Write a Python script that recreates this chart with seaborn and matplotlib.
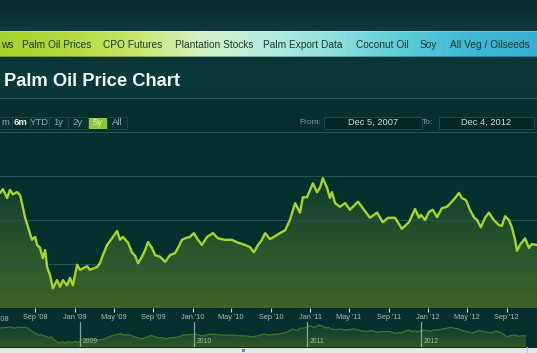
import numpy as np
import pandas as pd
import matplotlib.pyplot as plt
import matplotlib.dates as mdates
import matplotlib.transforms as mtransforms
import seaborn as sns
from matplotlib.colors import LinearSegmentedColormap
from matplotlib.patches import Rectangle, FancyBboxPatch

# ---- price series (USD/tonne, approx.) ----
dates = [
    '2008-04-19', '2008-05-14', '2008-05-23', '2008-06-05', '2008-06-14', '2008-06-23',
    '2008-07-06', '2008-07-15', '2008-07-21', '2008-07-31', '2008-08-09', '2008-08-21',
    '2008-08-31', '2008-09-06', '2008-09-15', '2008-09-24', '2008-10-01', '2008-10-07',
    '2008-10-16', '2008-10-25', '2008-11-07', '2008-11-16', '2008-11-25', '2008-12-08',
    '2008-12-17', '2008-12-26', '2009-01-08', '2009-01-17', '2009-02-08', '2009-02-17',
    '2009-03-11', '2009-03-20', '2009-03-29', '2009-04-11', '2009-04-26', '2009-05-12',
    '2009-05-21', '2009-05-30', '2009-06-15', '2009-06-27', '2009-07-07', '2009-07-16',
    '2009-07-28', '2009-08-07', '2009-08-16', '2009-08-28', '2009-09-07', '2009-09-22',
    '2009-10-08', '2009-10-23', '2009-11-08', '2009-11-17', '2009-11-29', '2009-12-15',
    '2009-12-24', '2010-01-05', '2010-01-18', '2010-01-30', '2010-02-15', '2010-03-05',
    '2010-03-21', '2010-04-12', '2010-05-03', '2010-05-22', '2010-06-13', '2010-06-28',
    '2010-07-10', '2010-07-23', '2010-08-04', '2010-08-14', '2010-08-29', '2010-09-14',
    '2010-09-29', '2010-10-15', '2010-10-30', '2010-11-15', '2010-11-30', '2010-12-09',
    '2010-12-22', '2011-01-09', '2011-01-22', '2011-01-31', '2011-02-09', '2011-02-22',
    '2011-03-03', '2011-03-09', '2011-03-19', '2011-04-03', '2011-04-19', '2011-05-04',
    '2011-05-13', '2011-05-29', '2011-06-13', '2011-07-05', '2011-07-27', '2011-08-14',
    '2011-08-30', '2011-09-21', '2011-10-12', '2011-11-03', '2011-11-22', '2011-12-04',
    '2011-12-10', '2011-12-23', '2012-01-04', '2012-01-16', '2012-01-29', '2012-02-13',
    '2012-02-29', '2012-03-15', '2012-03-25', '2012-04-06', '2012-04-15', '2012-04-28',
    '2012-05-10', '2012-05-22', '2012-06-01', '2012-06-13', '2012-06-26', '2012-07-08',
    '2012-07-23', '2012-08-08', '2012-08-17', '2012-08-27', '2012-09-08', '2012-09-17',
    '2012-09-27', '2012-10-03', '2012-10-12', '2012-10-28', '2012-11-09', '2012-11-18',
    '2012-12-04',
]
prices = [
    1060, 1085, 1110, 1050, 1105, 1075,
    1090, 1070, 1015, 915, 850, 765,
    785, 730, 710, 640, 695, 580,
    525, 435, 490, 445, 490, 455,
    505, 455, 595, 560, 585, 560,
    580, 605, 660, 730, 775, 825,
    765, 785, 745, 680, 655, 605,
    650, 695, 750, 710, 660, 650,
    615, 660, 675, 710, 765, 780,
    785, 810, 765, 730, 785, 810,
    775, 765, 765, 745, 730, 715,
    680, 730, 765, 810, 770, 790,
    810, 830, 900, 1015, 950, 1055,
    1055, 1150, 1090, 1120, 1185, 1120,
    1050, 1090, 1015, 990, 1015, 970,
    990, 1025, 980, 915, 950, 885,
    915, 915, 840, 885, 975, 915,
    935, 900, 955, 970, 920, 980,
    990, 1025, 1050, 1085, 1050, 1035,
    970, 920, 900, 850, 915, 950,
    900, 865, 860, 925, 900, 850,
    765, 690, 730, 775, 710, 735,
    730,
]

menu_items = ['ws', 'Palm Oil Prices', 'CPO Futures', 'Plantation Stocks',
              'Palm Export Data', 'Coconut Oil', 'Soy', 'All Veg / Oilseeds']
range_buttons = ['m', '6m', 'YTD', '1y', '2y', '5y', 'All']
tick_dates = ['2008-09-01', '2009-01-01', '2009-05-01', '2009-09-01', '2010-01-01',
              '2010-05-01', '2010-09-01', '2011-01-01', '2011-05-01', '2011-09-01',
              '2012-01-01', '2012-05-01', '2012-09-01']
tick_labels = ["Sep '08", "Jan '09", "May '09", "Sep '09", "Jan '10", "May '10",
               "Sep '10", "Jan '11", "May '11", "Sep '11", "Jan '12", "May '12", "Sep '12"]
nav_years = ['2009', '2010', '2011', '2012']

W, H = 537, 353
sns.set_theme(style='dark')
plt.rcParams['font.family'] = ['Liberation Sans', 'DejaVu Sans']

df = pd.DataFrame({'date': pd.to_datetime(dates), 'price': prices})

fig = plt.figure(figsize=(W / 100, H / 100), dpi=100)
fig.patch.set_facecolor('#06302f')

# ---------- page chrome (pixel coordinates) ----------
bg = fig.add_axes([0, 0, 1, 1])
bg.axis('off')


def vgrad(x0, x1, y0, y1, colors, z=0):
    cmap = LinearSegmentedColormap.from_list('v', colors)
    bg.imshow(np.linspace(0, 1, 64).reshape(-1, 1), cmap=cmap, aspect='auto',
              extent=(x0, x1, y1, y0), zorder=z, interpolation='bicubic')


vgrad(0, W, 0, 31, ['#0a2a2f', '#0d3237', '#11393d'])
vgrad(0, W, 57, 98, ['#0a3536', '#0c3b3b', '#0a3636'])
vgrad(0, W, 98, 133, ['#07312f', '#06302e'])
vgrad(0, W, 308, 347, ['#05302e', '#06302f'])

# menu bar gradient
menu_cmap = LinearSegmentedColormap.from_list(
    'menu', ['#a6d02e', '#b5d93c', '#c8e66a', '#d6f0c4', '#b4ece0',
             '#8ee0dc', '#5ccdd8', '#3fb9d6', '#36afd4'])
bg.imshow(np.linspace(0, 1, 256).reshape(1, -1), cmap=menu_cmap, aspect='auto',
          extent=(0, W, 57, 31), zorder=1, interpolation='bicubic')
bg.add_patch(Rectangle((0, 31), W, 1.2, color='white', alpha=0.25, lw=0, zorder=2))
bg.add_patch(Rectangle((0, 55.5), W, 1.5, color='#0b2e2c', alpha=0.35, lw=0, zorder=2))
menu_x = [1, 22, 103, 175, 263, 356, 420, 450]
for txt, x in zip(menu_items, menu_x):
    bg.text(x, 44.5, txt, fontsize=7.3, color='#1b3a2a', va='center', ha='left', zorder=3)
for x in [348, 414, 443]:
    bg.plot([x, x], [34, 55], color='#2f6070', alpha=0.08, lw=0.5, zorder=2)

# title
bg.text(4, 81, 'Palm Oil Price Chart', fontsize=13.2, fontweight='bold',
        color='#f2f7f6', va='center', ha='left', zorder=3)
bg.plot([0, W], [97.5, 97.5], color='#2a5654', lw=0.9, zorder=2)

# range selector
btn_edges = [-8, 12, 30, 49, 68, 88, 107, 127]
for i, lab in enumerate(range_buttons):
    x0, x1 = btn_edges[i], btn_edges[i + 1]
    if lab == '5y':
        bg.add_patch(Rectangle((x0 + 0.5, 117.5), x1 - x0 - 1, 10.5, facecolor='#8cc63c',
                               edgecolor='#a8dc55', lw=0.6, zorder=3))
        col, fw = '#e4f5b8', 'normal'
    else:
        bg.add_patch(Rectangle((x0, 117), x1 - x0, 11.5, facecolor='none',
                               edgecolor='#1d4845', lw=0.7, zorder=3))
        col, fw = ('#e8f1ef', 'bold') if lab == '6m' else ('#8fb1ad', 'normal')
    bg.text((x0 + x1) / 2 if i else 5, 122.8, lab, fontsize=6.8, color=col,
            fontweight=fw, ha='center', va='center', zorder=4)

# from / to boxes
bg.text(321, 122.8, 'From:', fontsize=6.0, color='#7d9f9b', ha='right', va='center', zorder=4)
bg.text(433, 122.8, 'To:', fontsize=6.0, color='#7d9f9b', ha='right', va='center', zorder=4)
for (x0, x1, s) in [(324, 422, 'Dec 5, 2007'), (439, 534, 'Dec 4, 2012')]:
    bg.add_patch(Rectangle((x0, 117), x1 - x0, 11.5, facecolor='#042625',
                           edgecolor='#1f4a47', lw=0.7, zorder=3))
    bg.text((x0 + x1) / 2, 122.8, s, fontsize=6.7, color='#cfe0dc',
            ha='center', va='center', zorder=4)

# bottom light bar + navigator handle
bg.add_patch(Rectangle((0, 347.5), W, 6, facecolor='#e4e9e7', lw=0, zorder=3))
bg.add_patch(Rectangle((242, 348.5), 3, 3, facecolor='#5f9c72', lw=0, zorder=4))
bg.plot([527, 527], [322, 353], color='#b8ccc6', lw=0.9, zorder=5)
bg.add_patch(FancyBboxPatch((524.8, 329.5), 4.4, 10, boxstyle='round,pad=0.6',
                            facecolor='#f4f7f5', edgecolor='#6d8f88', lw=0.5, zorder=6))
bg.set_xlim(0, W)
bg.set_ylim(H, 0)


# ---------- main price chart ----------
def gradient_fill(axis, data, ylo, yhi, colors, x0, x1):
    poly = axis.fill_between(data['date'], data['price'], ylo, color='none', lw=0)
    cmap = LinearSegmentedColormap.from_list('f', colors)
    im = axis.imshow(np.linspace(0, 1, 128).reshape(-1, 1), cmap=cmap, aspect='auto',
                     extent=(mdates.date2num(x0), mdates.date2num(x1), ylo, yhi),
                     zorder=1, interpolation='bicubic')
    im.set_clip_path(poly.get_paths()[0], axis.transData)


x_start, x_end = pd.Timestamp('2008-05-14'), pd.Timestamp('2012-12-04')
ax = fig.add_axes([0, 1 - 308 / H, 1, 176 / H])
ax.set_facecolor('#04302e')
gradient_fill(ax, df, 300, 1500, ['#08352f', '#163f2f', '#2b552b', '#3f6328'],
              pd.Timestamp('2008-01-01'), pd.Timestamp('2013-02-01'))
sns.lineplot(data=df, x='date', y='price', ax=ax, color='#a8d52c', lw=1.7, zorder=3)
ax.set_xlim(x_start, x_end)
ax.set_ylim(300, 1500)
ax.set_axisbelow('line')
ax.set_yticks([600, 900, 1200, 1500])
ax.yaxis.grid(True, color='#24534f', lw=0.8)
ax.xaxis.grid(False)
ax.set_yticklabels([])
ax.tick_params(axis='y', left=False, length=0)
ax.set_xticks(pd.to_datetime(tick_dates))
ax.set_xticklabels(tick_labels, fontsize=5.3, color='#a3c0bb')
ax.tick_params(axis='x', bottom=True, direction='out', length=3, width=0.8,
               color='#c9d9d3', pad=1.2)
ax.set_xlabel('')
ax.set_ylabel('')
for sp in ax.spines.values():
    sp.set_visible(False)
trans = mtransforms.blended_transform_factory(ax.transData, ax.transAxes)
ax.text(pd.Timestamp('2008-05-01'), -0.045, "May '08", transform=trans, fontsize=5.3,
        color='#a3c0bb', ha='center', va='top', clip_on=False)

# ---------- navigator ----------
nav = fig.add_axes([0, 1 - 347 / H, 1, 25 / H])
nav.set_facecolor('#05302e')
gradient_fill(nav, df, 268, 1310, ['#0c3a30', '#1c472d', '#315827'],
              pd.Timestamp('2008-01-01'), pd.Timestamp('2013-02-01'))
sns.lineplot(data=df, x='date', y='price', ax=nav, color='#3b772c', lw=0.9, zorder=3)
nav.set_xlim(pd.Timestamp('2008-04-19'), pd.Timestamp('2013-01-08'))
nav.set_ylim(268, 1310)
ntrans = mtransforms.blended_transform_factory(nav.transData, nav.transAxes)
for yr in nav_years:
    t = pd.Timestamp(f'{yr}-01-01')
    nav.axvline(t, color='#7fa9a1', lw=0.9, zorder=4)
    nav.text(t + pd.Timedelta(days=9), 0.22, yr, transform=ntrans, fontsize=4.9,
             color='#9fc19c', ha='left', va='center', zorder=5)
nav.set_xticks([])
nav.set_yticks([])
nav.set_xlabel('')
nav.set_ylabel('')
nav.grid(False)
for sp in nav.spines.values():
    sp.set_visible(False)

fig.savefig('out.png', dpi=100, facecolor=fig.get_facecolor())
